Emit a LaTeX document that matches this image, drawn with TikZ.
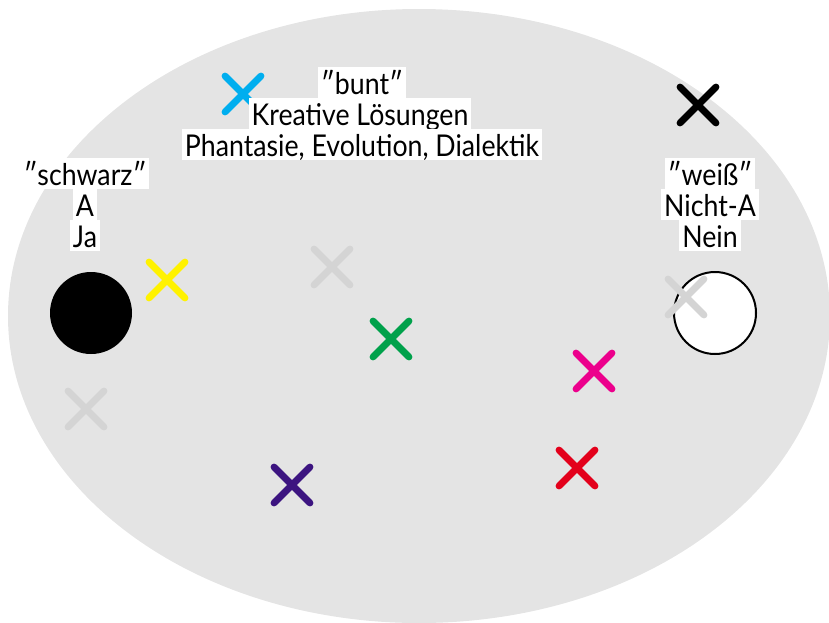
\documentclass[tikz,border=0pt]{standalone}
\usepackage{fontspec}
\setmainfont[FakeStretch=0.89]{Lato}
\definecolor{bggray}{HTML}{E4E4E4}
\definecolor{xgray}{HTML}{D4D4D4}
\definecolor{xyellow}{HTML}{FFF200}
\definecolor{xcyan}{HTML}{00AEEF}
\definecolor{xgreen}{HTML}{00A14B}
\definecolor{xmagenta}{HTML}{EC008C}
\definecolor{xred}{HTML}{E3001B}
\definecolor{xpurple}{HTML}{3C1480}
\begin{document}
\begin{tikzpicture}[x=1pt,y=-1pt,
  crossmark/.pic={\draw[line width=6.8pt,line cap=round,pic actions] (-18,-18) -- (18,18) (-18,18) -- (18,-18);},
  lbl/.style={fill=white,inner xsep=3pt,inner ysep=0pt,text height=27pt,text depth=4pt,anchor=base,font=\fontsize{30}{32}\selectfont}]
\useasboundingbox (0,0) rectangle (829,622);
\fill[bggray] (419,316) ellipse [x radius=411, y radius=307];
% circles
\node[circle,fill=black,minimum size=82pt,inner sep=0pt] (ja) at (91,313) {};
\node[circle,fill=white,draw=black,line width=2pt,minimum size=82pt,inner sep=0pt] (nein) at (715,313) {};
% crosses
\pic[draw=xcyan] at (243,94) {crossmark};
\pic[draw=black,line width=7.2pt] at (698,105) {crossmark};
\pic[draw=xyellow] at (167,280) {crossmark};
\pic[draw=xgray] at (332,267) {crossmark};
\pic[draw=xgreen] at (391,339) {crossmark};
\pic[draw=xgray] at (686,297) {crossmark};
\pic[draw=xmagenta] at (594,371) {crossmark};
\pic[draw=xgray] at (86,409) {crossmark};
\pic[draw=xred] at (577,468) {crossmark};
\pic[draw=xpurple] at (292,485) {crossmark};
% labels
\node[lbl] (b1) at (362,94) {″bunt″};
\node[lbl] (b2) at (360,125) {Kreative Lösungen};
\node[lbl] (b3) at (362,156) {Phantasie, Evolution, Dialektik};
\node[lbl] (s1) at (85,185) {″schwarz″};
\node[lbl] (s2) at (85,216) {A};
\node[lbl] (s3) at (85,247) {Ja};
\node[lbl] (w1) at (710,185) {″weiß″};
\node[lbl] (w2) at (710,216) {Nicht-A};
\node[lbl] (w3) at (710,247) {Nein};
\end{tikzpicture}
\end{document}
